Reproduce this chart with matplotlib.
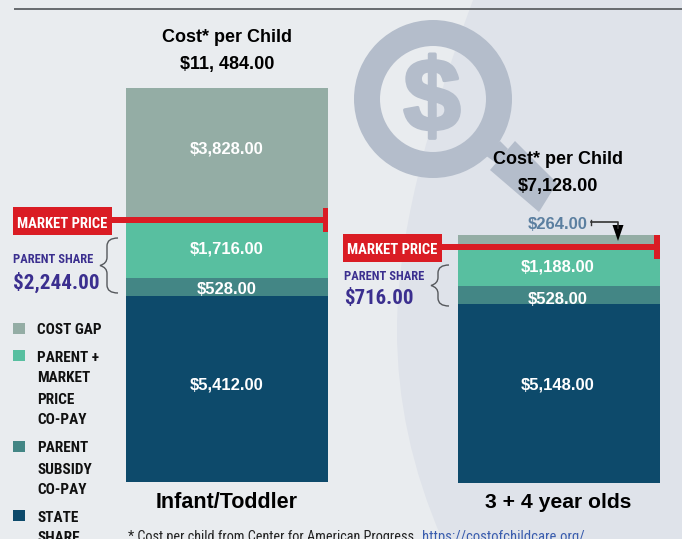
import matplotlib
matplotlib.use("Agg")
import matplotlib.pyplot as plt
import matplotlib.patheffects as pe
from matplotlib.patches import Rectangle, Polygon, PathPatch, Wedge
from matplotlib.path import Path
from matplotlib import font_manager as fm

W, H = 682, 539
names = {f.name for f in fm.fontManager.ttflist}
NARROW = next(n for n in ['Roboto Condensed', 'Archivo Narrow', 'Asap Condensed', 'Barlow Condensed',
                          'Liberation Sans'] if n in names)
SANS = 'Liberation Sans'

categories = ["Infant/Toddler", "3 + 4 year olds"]
series_names = ["STATE SHARE", "PARENT SUBSIDY CO-PAY", "PARENT + MARKET PRICE CO-PAY", "COST GAP"]
state_share = [5412, 5148]
parent_subsidy = [528, 528]
parent_market = [1716, 1188]
cost_gap = [3828, 264]
totals = ["$11, 484.00", "$7,128.00"]
parent_share = ["$2,244.00", "$716.00"]
colors = ["#0D4A6B", "#438685", "#58BFA0", "#94ADA5"]

BG1, BG2, GLASS = "#E9ECEF", "#DFE3EA", "#B4BDCB"
RED, PURPLE = "#DA1C24", "#3B2F8F"

fig = plt.figure(figsize=(W / 100, H / 100), dpi=100, facecolor=BG1)

def pixel_axes(z):
    a = fig.add_axes([0, 0, 1, 1], zorder=z)
    a.set_xlim(0, W); a.set_ylim(H, 0); a.axis("off")
    a.patch.set_alpha(0)
    return a

bg = pixel_axes(0)
verts = [(473, 0), (425, 130), (397, 240), (397, 330), (397, 400), (412, 470), (442, 539),
         (682, 539), (682, 0), (473, 0)]
codes = [Path.MOVETO, Path.CURVE4, Path.CURVE4, Path.CURVE4, Path.CURVE4, Path.CURVE4, Path.CURVE4,
         Path.LINETO, Path.LINETO, Path.CLOSEPOLY]
bg.add_patch(PathPatch(Path(verts, codes), fc=BG2, ec="none"))
bg.plot([14, 682], [9, 9], color="#666A6E", lw=1.4, solid_capstyle="butt")
bg.add_patch(Wedge((433, 99), 79, 0, 360, width=26, fc=GLASS, ec="none"))
bg.add_patch(Polygon([(515, 141), (557, 183), (539, 212), (490, 170)], fc=GLASS, ec="none"))
bg.add_patch(Polygon([(500, 141), (508, 149), (496, 163), (485, 155)], fc=GLASS, ec="none"))
bg.text(432, 104, "$", fontsize=74, family=SANS, weight="bold", color=GLASS, ha="center", va="center",
        path_effects=[pe.withStroke(linewidth=2.5, foreground=GLASS)])

# One axes per bar: extents in pixels, value scale from the data
extents = [(126, 328, 88, 482), (458, 660, 235, 483)]
label_px = [[384, 288, 248, 148], [384, 298, 266, None]]
for i, (x0, x1, y0, y1) in enumerate(extents):
    a = fig.add_axes([x0 / W, 1 - y1 / H, (x1 - x0) / W, (y1 - y0) / H], zorder=1)
    a.axis("off")
    vals = [state_share[i], parent_subsidy[i], parent_market[i], cost_gap[i]]
    a.set_xlim(-0.5, 0.5)
    a.set_ylim(0, sum(vals))
    bottom = 0
    for j, v in enumerate(vals):
        a.bar(0, v, width=1, bottom=bottom, color=colors[j])
        bottom += v

ov = pixel_axes(2)

def t(x, y, s, size, color="black", ha="center", fam=SANS, weight="bold", **kw):
    return ov.text(x, y, s, fontsize=size, color=color, ha=ha, va="center_baseline", family=fam,
                   weight=weight, **kw)

for i, cx in enumerate([227, 558]):
    vals = [state_share[i], parent_subsidy[i], parent_market[i], cost_gap[i]]
    for v, py in zip(vals, label_px[i]):
        if py is not None:
            t(cx, py, f"${v:,}.00", 12, color="white")

t(227, 36, "Cost* per Child", 13)
t(227, 62, totals[0], 13)
t(558, 158, "Cost* per Child", 13)
t(558, 185, totals[1], 13)
t(227, 500, categories[0], 15.5)
t(558, 500, categories[1], 15.2)
t(558, 223, f"${cost_gap[1]:,}.00", 12, color="#5B7FA0")

# market price markers
for bx, by, x1, ly, cap in [(13, 207, 328, 220, (323, 208, 232)), (343, 234, 660, 247, (654, 235, 259))]:
    ov.add_patch(Rectangle((bx, by), 99, 28, fc=RED, ec="none"))
    ov.add_patch(Rectangle((bx + 99, ly - 3), x1 - bx - 99, 6, fc=RED, ec="none"))
    ov.add_patch(Rectangle((cap[0], cap[1]), x1 - cap[0], cap[2] - cap[1], fc=RED, ec="none"))
    t(bx + 49.5, by + 15, "MARKET PRICE", 10.5, color="white", fam=NARROW)

# parent share labels and braces
t(13, 258, "PARENT SHARE", 9, color=PURPLE, ha="left", fam=NARROW)
t(13, 280, parent_share[0], 15.2, color=PURPLE, ha="left", fam=NARROW)
t(344, 275, "PARENT SHARE", 9, color=PURPLE, ha="left", fam=NARROW)
t(344, 297, parent_share[1], 15, color=PURPLE, ha="left", fam=NARROW)

def brace(x_tip, x_mid, y0, y1):
    ym = (y0 + y1) / 2
    xc = x_mid + 7
    v = [(x_tip, y0), (xc, y0), (xc, y0 + 8), (xc, ym - 8), (xc, ym - 2), (x_mid, ym),
         (xc, ym + 2), (xc, ym + 8), (xc, y1 - 8), (xc, y1), (x_tip, y1)]
    c = [Path.MOVETO] + [Path.CURVE3] * 2 + [Path.LINETO] + [Path.CURVE3] * 4 + [Path.LINETO] + [Path.CURVE3] * 2
    ov.add_patch(PathPatch(Path(v, c), fc="none", ec="#55585C", lw=1))

brace(118, 100, 238, 293)
brace(449, 431, 265, 306)

# legend
legend = [(323, colors[3], [("COST GAP", 328)]),
          (350, colors[2], [("PARENT +", 356), ("MARKET", 377), ("PRICE", 398), ("CO-PAY", 419)]),
          (441, colors[1], [("PARENT", 447), ("SUBSIDY", 468), ("CO-PAY", 489)]),
          (510, colors[0], [("STATE", 516), ("SHARE", 537)])]
for ys, c, lines in legend:
    ov.add_patch(Rectangle((13, ys), 12, 11, fc=c, ec="none"))
    for s, y in lines:
        t(37, y, s, 11, ha="left", fam=NARROW, color="#111111")

# 264 callout
ov.plot([591, 591], [219.5, 224.5], color="#333", lw=1)
ov.plot([591, 618, 618], [222, 222, 228], color="#333", lw=1.2)
ov.add_patch(Polygon([(612.5, 225), (623.5, 225), (618, 241)], fc="black", ec="none"))

# footnote
t(128, 536, "* Cost per child from Center for American Progress", 10.3, ha="left", fam=NARROW,
  weight="normal", color="#222222")
t(422, 536, "https://costofchildcare.org/", 10.5, ha="left", fam=NARROW, weight="normal", color="#3A5DAE")

fig.savefig("out.png", dpi=100, facecolor=BG1)
